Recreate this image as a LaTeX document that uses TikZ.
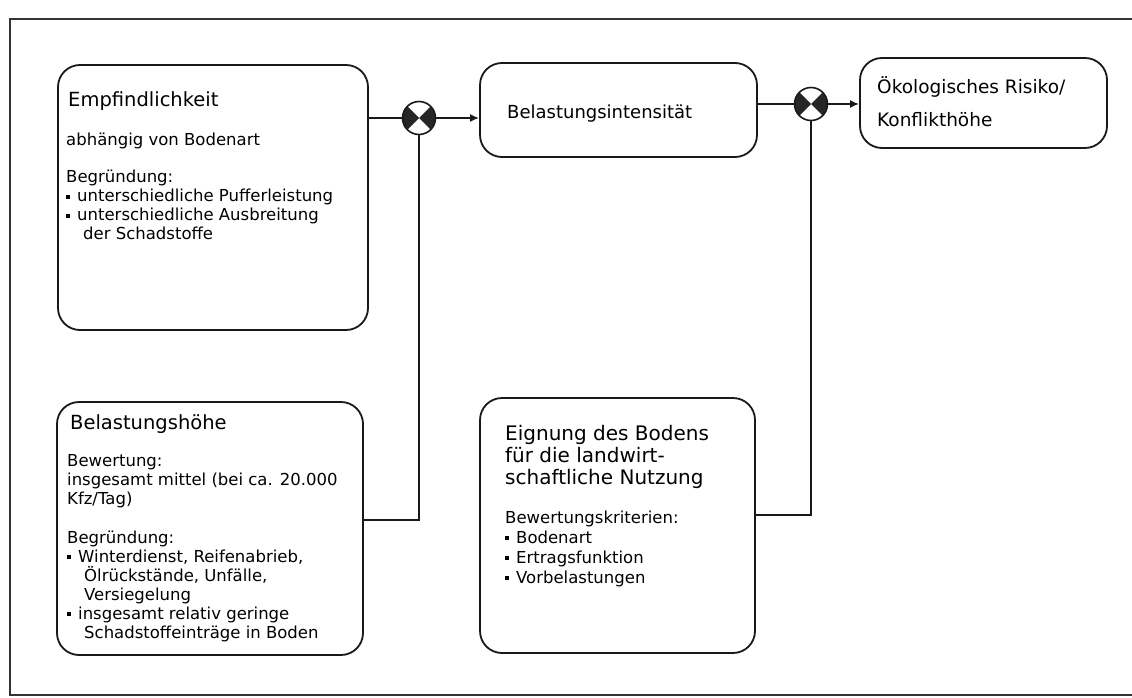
\documentclass[tikz,border=0pt]{standalone}
\usepackage{fontspec}
\setmainfont{DejaVu Sans}
\usetikzlibrary{arrows.meta}

% text block whose baseline is the first line, lines at a fixed distance
\newcommand\txtblock[2]{\vtop{\hsize=440pt\parindent=0pt\leftskip=0pt\rightskip=0pt plus 1fil\parfillskip=0pt plus 1fil\lineskiplimit=-\maxdimen #1\relax #2\par}}
\newcommand\bodyfont{\fontsize{16.5}{19}\selectfont}
\newcommand\bodyfontw{\fontsize{16.5}{20}\selectfont}
\newcommand\headfont{\fontsize{19.5}{22}\selectfont}
\newcommand\midfont{\fontsize{18}{22}\selectfont}
\newcommand\bigfont{\fontsize{20}{22}\selectfont}
\newcommand\bigfontw{\fontsize{18.5}{33}\selectfont}
\newcommand\bul{\makebox[11pt][l]{\raisebox{3.2pt}{\rule{3.6pt}{3.6pt}}}}
\newcommand\ind{\hspace*{17pt}}

\tikzset{
  box/.style={draw=black!90, line width=1.8pt, rounded corners=22pt, fill=white, inner sep=0pt},
  txt/.style={anchor=base west, inner sep=0pt, text=black},
  link/.style={draw=black!90, line width=1.8pt},
  arrow/.style={link, -{Latex[length=9pt,width=8pt]}},
  mixer/.style={circle, draw=black!90, line width=1.6pt, fill=white, minimum size=33pt, inner sep=0pt,
    path picture={
      \fill[black!85] (path picture bounding box.center) -- ++(135:30pt) -- ++(0,-42.43pt) -- cycle;
      \fill[black!85] (path picture bounding box.center) -- ++(45:30pt) -- ++(0,-42.43pt) -- cycle;
    }},
  frame/.style={draw=black!80, line width=1.8pt}
}

\begin{document}
\begin{tikzpicture}[x=1pt, y=-1pt]
\useasboundingbox (0,0) rectangle (1132,698);
\fill[white] (0,0) rectangle (1132,698);

% outer frame
\draw[frame] (1132,19) -- (10,19) -- (10,695) -- (1132,695);

% boxes
\node[box, minimum width=310pt, minimum height=265pt] (b1) at (213,197.5) {};
\node[box, minimum width=277pt, minimum height=94pt] (b2) at (618.5,110) {};
\node[box, minimum width=306pt, minimum height=253pt] (b3) at (210,528.5) {};
\node[box, minimum width=247pt, minimum height=90pt] (b4) at (983.5,103) {};
\node[box, minimum width=275pt, minimum height=255pt] (b5) at (617.5,525.5) {};

% combination symbols
\node[mixer] (c1) at (419,118) {};
\node[mixer] (c2) at (811,104) {};

% texts
\node[txt] (t1a) at (68,107) {\txtblock{\headfont}{Empfindlichkeit}};
\node[txt] (t1b) at (66,146) {\txtblock{\bodyfont}{abhängig von Bodenart\\[18pt]
  Begründung:\\
  \bul unterschiedliche Pufferleistung\\
  \bul unterschiedliche Ausbreitung\\
  \ind der Schadstoffe}};

\node[txt] (t2) at (507,119) {\txtblock{\midfont}{Belastungsintensität}};

\node[txt] (t4) at (877,94) {\txtblock{\bigfontw}{Ökologisches Risiko/\\Konflikthöhe}};

\node[txt] (t3a) at (70,429) {\txtblock{\headfont}{Belastungshöhe}};
\node[txt] (t3b) at (67,466) {\txtblock{\bodyfont}{Bewertung:\\
  insgesamt mittel (bei ca. 20.000\\
  Kfz/Tag)\\[20pt]
  Begründung:\\
  \bul Winterdienst, Reifenabrieb,\\
  \ind Ölrückstände, Unfälle,\\
  \ind Versiegelung\\
  \bul insgesamt relativ geringe\\
  \ind Schadstoffeinträge in Boden}};

\node[txt] (t5a) at (505,440) {\txtblock{\bigfont}{Eignung des Bodens\\
  für die landwirt-\\
  schaftliche Nutzung}};
\node[txt] (t5b) at (505,523) {\txtblock{\bodyfontw}{Bewertungskriterien:\\
  \bul Bodenart\\
  \bul Ertragsfunktion\\
  \bul Vorbelastungen}};

% connectors
\coordinate (j1) at (419,520);
\coordinate (j2) at (811,515);
\draw[link] (b1.east |- c1) -- (c1.west);
\draw[arrow] (c1.east) -- (c1 -| b2.west);
\draw[link] (c1.south) -- (j1) -- (j1 -| b3.east);
\draw[link] (b2.east |- c2) -- (c2.west);
\draw[arrow] (c2.east) -- (c2 -| b4.west);
\draw[link] (c2.south) -- (j2) -- (j2 -| b5.east);
\end{tikzpicture}
\end{document}
